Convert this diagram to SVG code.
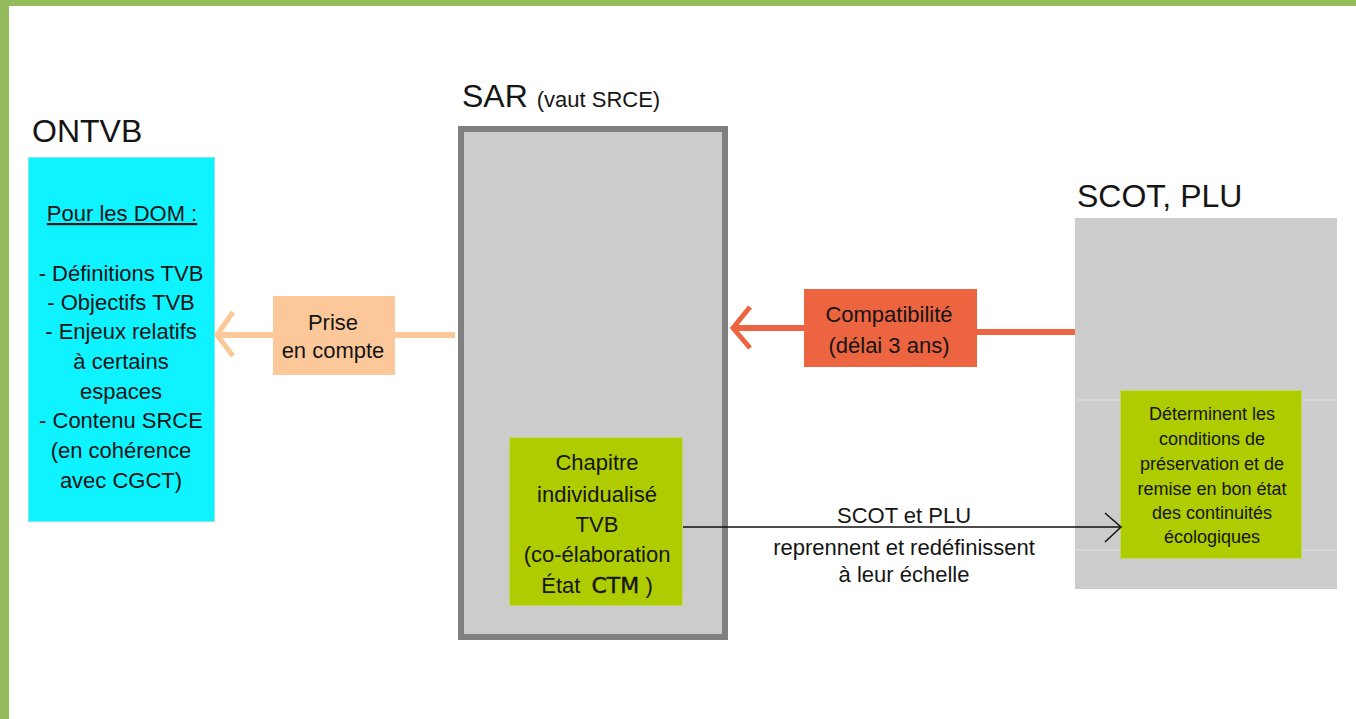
<svg xmlns="http://www.w3.org/2000/svg" width="1356" height="719" viewBox="0 0 1356 719">
<style>
text{font-family:"Liberation Sans",Arial,sans-serif;fill:#151515}
.t{font-size:22px;text-anchor:middle}
.s{font-size:18px;text-anchor:middle}
.h{font-size:32px}
.c{fill:none;stroke-linecap:butt}
.ctm{font-family:"DejaVu Sans",sans-serif;font-size:22px;stroke:#151515;stroke-width:0.4}
</style>
<rect x="0" y="0" width="1356" height="719" fill="#ffffff"/>
<rect x="0" y="0" width="1356" height="6" fill="#94bb5c"/>
<rect x="0" y="0" width="9" height="719" fill="#94bb5c"/>

<g id="ontvb">
<text class="h" x="32" y="142">ONTVB</text>
<rect x="28.5" y="157.5" width="186" height="364" fill="#0ff2ff" stroke="#7fe8ee" stroke-width="1"/>
<text class="t" x="122" y="221" text-decoration="underline">Pour les DOM :</text>
<text class="t" x="121" y="281">- Définitions TVB</text>
<text class="t" x="121" y="310">- Objectifs TVB</text>
<text class="t" x="121" y="339">- Enjeux relatifs</text>
<text class="t" x="121" y="369">à certains</text>
<text class="t" x="121" y="399">espaces</text>
<text class="t" x="121" y="428">- Contenu SRCE</text>
<text class="t" x="121" y="458">(en cohérence</text>
<text class="t" x="121" y="488">avec CGCT)</text>
</g>

<g id="sar">
<text class="h" x="462" y="107">SAR <tspan font-size="22">(vaut SRCE)</tspan></text>
<rect x="461" y="129" width="264" height="508" fill="#cccccc" stroke="#808080" stroke-width="6"/>
</g>

<g id="chapitre">
<rect x="509.5" y="437.5" width="173" height="168" fill="#aecc00" stroke="#c4d86a" stroke-width="1"/>
<text class="t" x="597" y="470">Chapitre</text>
<text class="t" x="597" y="502">individualisé</text>
<text class="t" x="597" y="532">TVB</text>
<text class="t" x="597" y="562">(co-élaboration</text>
<text class="t" x="597" y="593">État <tspan class="ctm" dx="5">CTM</tspan> )</text>
</g>

<g id="scot">
<text class="h" x="1077" y="207">SCOT, PLU</text>
<rect x="1075" y="218" width="262" height="371" fill="#cccccc"/>
<line x1="1075" y1="400" x2="1337" y2="400" stroke="#e2e2e2" stroke-width="1"/>
<line x1="1075" y1="550" x2="1337" y2="550" stroke="#e2e2e2" stroke-width="1"/>
</g>

<g id="determinent">
<rect x="1120.5" y="390.5" width="181" height="168" fill="#aecc00" stroke="#c4d86a" stroke-width="1"/>
<text class="s" x="1212" y="420">Déterminent les</text>
<text class="s" x="1212" y="445">conditions de</text>
<text class="s" x="1212" y="470">préservation et de</text>
<text class="s" x="1212" y="495">remise en bon état</text>
<text class="s" x="1212" y="519">des continuités</text>
<text class="s" x="1212" y="543">écologiques</text>
</g>

<g id="connectors">
<line class="c" x1="395" y1="335" x2="455" y2="335" stroke="#fbc898" stroke-width="6"/>
<line class="c" x1="218" y1="335" x2="273" y2="335" stroke="#fbc898" stroke-width="6"/>
<polyline class="c" points="233,312 217,335 233,356" stroke="#fbc898" stroke-width="5"/>
<line class="c" x1="976" y1="332" x2="1075" y2="332" stroke="#ec6440" stroke-width="6"/>
<line class="c" x1="733" y1="328" x2="804" y2="328" stroke="#ec6440" stroke-width="6"/>
<polyline class="c" points="750,307 733,328 750,348" stroke="#ec6440" stroke-width="5"/>
<line class="c" x1="683" y1="527" x2="1121" y2="527" stroke="#111111" stroke-width="1.5"/>
<polyline class="c" points="1105,513 1121,527 1105,542" stroke="#111111" stroke-width="1.5"/>
</g>

<g id="prise">
<rect x="273" y="296" width="122" height="79" fill="#fcc89a"/>
<text class="t" x="333" y="330" font-size="21">Prise</text>
<text class="t" x="333" y="358" font-size="21">en compte</text>
</g>

<g id="compatibilite">
<rect x="804" y="289" width="173" height="78" fill="#ec6440"/>
<text class="t" x="889" y="322">Compatibilité</text>
<text class="t" x="889" y="353">(délai 3 ans)</text>
</g>

<g id="label">
<text class="t" x="904" y="523">SCOT et PLU</text>
<text class="t" x="904" y="555">reprennent et redéfinissent</text>
<text class="t" x="904" y="582">à leur échelle</text>
</g>
</svg>
